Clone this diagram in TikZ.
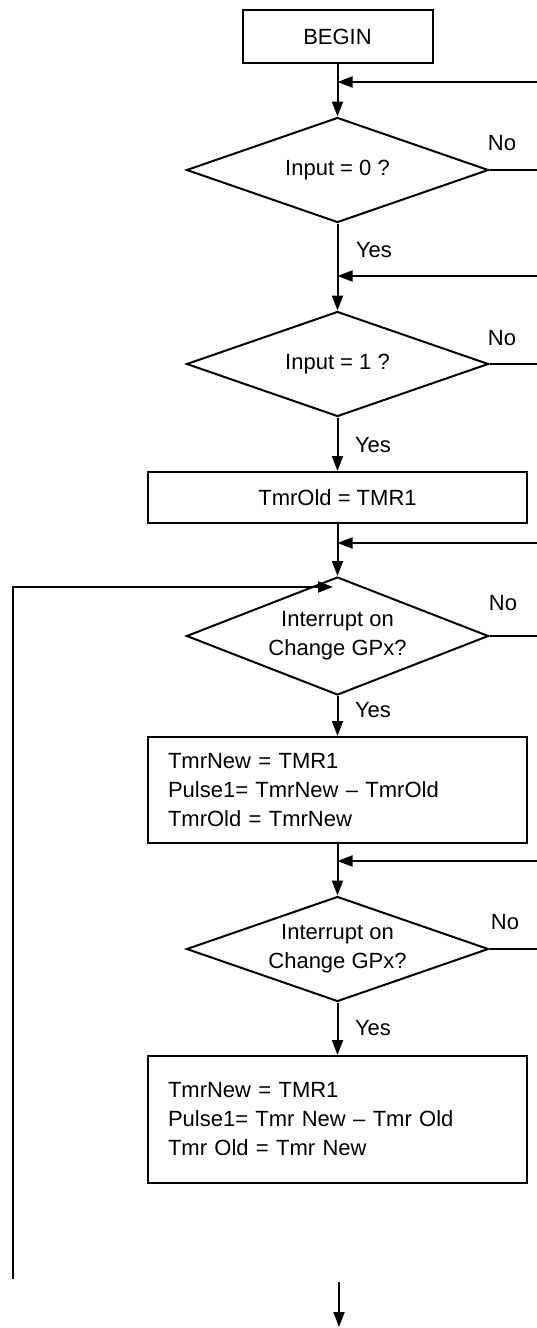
\documentclass[tikz,border=0pt]{standalone}
\usepackage{fontspec}
\setmainfont{Liberation Sans}
\usetikzlibrary{shapes.geometric,arrows.meta}

\begin{document}
\begin{tikzpicture}[x=1pt, y=-1pt, line width=2pt,
    every node/.style={font=\fontsize{22}{29}\selectfont},
    proc/.style={draw, rectangle, minimum width=379pt, inner sep=0pt},
    decide/.style={draw, diamond, minimum width=302pt, minimum height=105pt, inner sep=0pt, aspect=2.9, align=center},
    flow/.style={-{Triangle[length=15pt,width=11pt]}}]
        \useasboundingbox (0,0) rectangle (537,1328);

        \node[proc, minimum width=190pt, minimum height=53pt] (begin) at (337.5,36.5) {BEGIN};
        \node[decide] (test0) at (337.5,170) {Input = 0 ?};
        \node[decide] (test1) at (337.5,364) {Input = 1 ?};
        \node[proc, minimum height=51pt] (init) at (337.5,497.5) {TmrOld = TMR1};
        \node[decide, minimum height=118pt, aspect=2.56] (ioc0) at (337.5,636) {Interrupt on\\Change GPx?};
        \node[proc, minimum height=106pt, text width=339pt, align=left] (calc0) at (337.5,790)
            {TmrNew = TMR1\\Pulse1= TmrNew -- TmrOld\\TmrOld = TmrNew};
        \node[decide] (ioc1) at (337.5,949) {Interrupt on\\Change GPx?};
        \node[proc, minimum height=127pt, text width=339pt, align=left] (calc1) at (337.5,1119.5)
            {TmrNew = TMR1\\Pulse1= Tmr New -- Tmr Old\\Tmr Old = Tmr New};

        \node (no0) at (502,143) {No};
        \node (yes0) at (374,250) {Yes};
        \node (no1) at (502,338) {No};
        \node (yes1) at (373,445) {Yes};
        \node (no2) at (503,603) {No};
        \node (yes2) at (373,710) {Yes};
        \node (no3) at (505,922) {No};
        \node (yes3) at (373,1028) {Yes};

        \coordinate (ret0) at (537,82);
        \coordinate (ret1) at (537,276);
        \coordinate (ret2) at (537,543);
        \coordinate (ret3) at (537,861);
        \coordinate (loop) at (13,1279);
        \coordinate (looptip) at (333,587);
        \coordinate (exit) at (339,1282);
        \coordinate (exittip) at (339,1327);

        \draw[flow] (begin.south) -- (test0.north);
        \draw[flow] (test0.south) -- (test1.north);
        \draw[flow] (test1.south) -- (init.north);
        \draw[flow] (init.south) -- (ioc0.north);
        \draw[flow] (ioc0.south) -- (calc0.north);
        \draw[flow] (calc0.south) -- (ioc1.north);
        \draw[flow] (ioc1.south) -- (calc1.north);

        % coming back in from the right
        \foreach \r in {ret0,ret1,ret2,ret3}
            \draw[flow] (\r) -- (\r -| begin.south);
        \foreach \d in {test0,test1,ioc0,ioc1}
            \draw (\d.east) -- (\d.east -| ret0);

        \draw[flow] (loop) |- (looptip);
        \draw[flow] (exit) -- (exittip);
      \end{tikzpicture}
\end{document}
